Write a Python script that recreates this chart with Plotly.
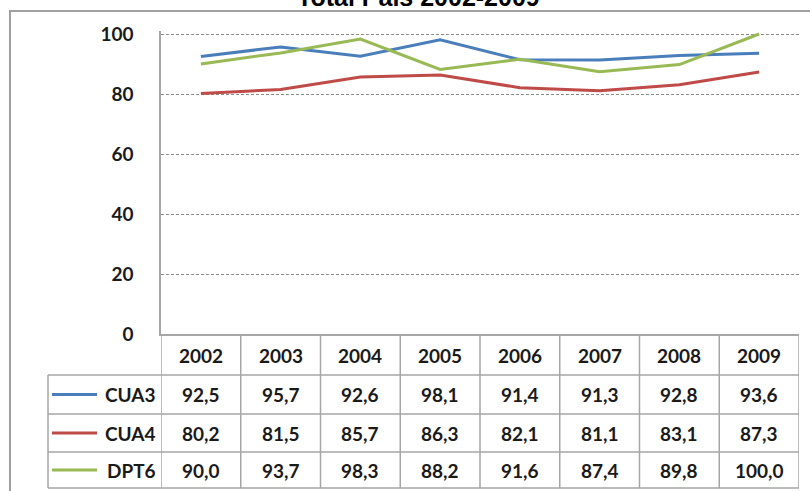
import plotly.graph_objects as go

years = ["2002", "2003", "2004", "2005", "2006", "2007", "2008", "2009"]
series_names = ["CUA3", "CUA4", "DPT6"]
cua3 = [92.5, 95.7, 92.6, 98.1, 91.4, 91.3, 92.8, 93.6]
cua4 = [80.2, 81.5, 85.7, 86.3, 82.1, 81.1, 83.1, 87.3]
dpt6 = [90.0, 93.7, 98.3, 88.2, 91.6, 87.4, 89.8, 100.0]
colors = ["#4A7EBB", "#BE4B48", "#98B954"]
title_text = "Total País 2002-2009"

W, H = 810, 491
L, R = 161, 799
TOP, BOT = 31, 334
PH = BOT - TOP
PW = R - L


def py(pix):
    return (BOT - pix) / PH


def px(pix):
    return (pix - L) / PW


fig = go.Figure()
for name, vals, col in zip(series_names, [cua3, cua4, dpt6], colors):
    fig.add_trace(go.Scatter(x=years, y=vals, mode="lines", name=name,
                             line=dict(color=col, width=3), showlegend=False))

txt_font = dict(family="Lato", size=19, color="#1A1A1A", weight="bold")
border = "#A6A6A6"
shapes = []
annotations = []

# table row lines
row_edges = [375, 414, 452, 488]
row_centers = [355, 394.5, 433, 470]
for yp in row_edges:
    shapes.append(dict(type="line", xref="paper", yref="paper", x0=px(48), x1=px(R),
                       y0=py(yp), y1=py(yp), line=dict(color=border, width=1.5)))
# vertical lines for columns
for i in range(len(years) + 1):
    shapes.append(dict(type="line", xref="x", yref="paper", x0=i - 0.5, x1=i - 0.5,
                       y0=0, y1=py(488), line=dict(color=border, width=1.5)))
shapes.append(dict(type="line", xref="paper", yref="paper", x0=px(48), x1=px(48),
                   y0=py(375), y1=py(488), line=dict(color=border, width=1.5)))

# header
for i, yr in enumerate(years):
    annotations.append(dict(x=i, xref="x", y=py(row_centers[0]), yref="paper",
                            xanchor="center", yanchor="middle",
                            text=yr, showarrow=False, font=txt_font))
# rows
for r, (name, vals, col) in enumerate(zip(series_names, [cua3, cua4, dpt6], colors)):
    yc = py(row_centers[r + 1])
    for i, v in enumerate(vals):
        annotations.append(dict(x=i, xref="x", y=yc, yref="paper",
                                xanchor="center", yanchor="middle",
                                text=f"{v:.1f}".replace(".", ","), showarrow=False,
                                font=txt_font))
    annotations.append(dict(x=px(158), xref="paper", y=yc, yref="paper", text=name,
                            xanchor="right", yanchor="middle", showarrow=False,
                            font=txt_font))
    shapes.append(dict(type="line", xref="paper", yref="paper", x0=px(52), x1=px(97),
                       y0=yc, y1=yc, line=dict(color=col, width=3)))

# outer frame
shapes.append(dict(type="rect", xref="paper", yref="paper", x0=px(10), x1=px(830),
                   y0=py(520), y1=py(11), line=dict(color="#A0A0A0", width=2),
                   layer="below"))

annotations.append(dict(x=px(418), xref="paper", y=py(-3), yref="paper", text=title_text,
                        showarrow=False, xanchor="center", yanchor="middle",
                        font=dict(family="Liberation Sans", size=25, color="#000000",
                                  weight="bold")))

fig.update_layout(
    width=W, height=H,
    margin=dict(l=L, r=W - R, t=TOP, b=H - BOT),
    plot_bgcolor="white", paper_bgcolor="white",
    shapes=shapes, annotations=annotations,
    xaxis=dict(type="category", showticklabels=False, showgrid=False, zeroline=False,
               showline=True, linecolor=border, linewidth=1.5, range=[-0.5, 7.5]),
    yaxis=dict(range=[0, 101], dtick=20, tick0=0, showgrid=True, gridcolor="#8C8C8C",
               gridwidth=1, griddash="3px,2px", zeroline=False, showline=True,
               linecolor=border, linewidth=1.5, ticks="", ticklabelstandoff=22,
               tickfont=txt_font),
)

fig.write_html("out.html")
